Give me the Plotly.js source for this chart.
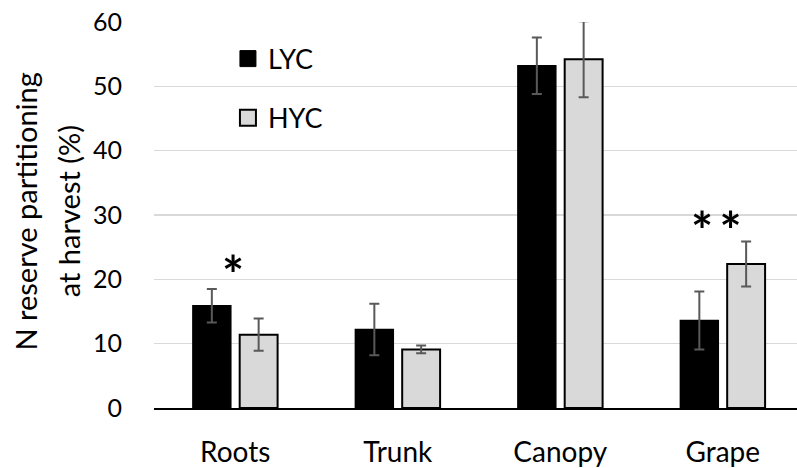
<!DOCTYPE html>
<html>
<head>
<meta charset="utf-8">
<script src="https://cdn.plot.ly/plotly-3.0.1.min.js"></script>
<style>html,body{margin:0;padding:0;background:#fff;}#chart{width:797px;height:468px;}</style>
</head>
<body>
<div id="chart"></div>
<script>
const categories = ["Roots", "Trunk", "Canopy", "Grape"];
const lycValues = [15.9, 12.2, 53.2, 13.6];
const lycErrors = [2.6, 4.0, 4.4, 4.5];
const hycValues = [11.4, 9.1, 54.2, 22.4];
const hycErrors = [2.5, 0.6, 5.9, 3.5];
const seriesNames = ["LYC", "HYC"];
const sigLabels = [{cat: "Roots", y: 22.7, text: "*"}, {cat: "Grape", y: 29.5, text: "*\u2009*"}];
const yTitleLines = ["N reserve partitioning", "at harvest (%)"];
const yTicks = [0, 10, 20, 30, 40, 50, 60];

const font = "Lato, 'Open Sans', sans-serif";

const traces = [
  {
    type: "bar", name: seriesNames[0], x: categories, y: lycValues, showlegend: false,
    marker: {color: "#000000", line: {color: "#000000", width: 1.5}},
    error_y: {type: "data", array: lycErrors, visible: true, color: "#595959", thickness: 2, width: 5}
  },
  {
    type: "bar", name: seriesNames[1], x: categories, y: hycValues, showlegend: false,
    marker: {color: "#d9d9d9", line: {color: "#000000", width: 2}},
    error_y: {type: "data", array: hycErrors, visible: true, color: "#595959", thickness: 2, width: 5}
  },
  {
    type: "scatter", mode: "markers", name: seriesNames[0], x: [null], y: [null], legend: "legend",
    marker: {symbol: "square", size: 20, color: "#000000", line: {color: "#000000", width: 1}}
  },
  {
    type: "scatter", mode: "markers", name: seriesNames[1], x: [null], y: [null], legend: "legend2",
    marker: {symbol: "square", size: 20, color: "#d9d9d9", line: {color: "#000000", width: 2}}
  }
];

const annotations = sigLabels.map(s => ({
  x: s.cat, y: s.y, xref: "x", yref: "y", text: s.text, showarrow: false,
  font: {family: font, size: 52, color: "#000", weight: "bold"}, yanchor: "middle",
  xshift: s.cat === "Grape" ? -6 : -2, yshift: -12
}));
[-0.2, -0.1337].forEach((px, i) => annotations.push({
  xref: "paper", yref: "paper", x: px, y: 0.51, textangle: -90,
  text: yTitleLines[i], showarrow: false,
  font: {family: font, size: 29, color: "#000"}, xanchor: "center", yanchor: "middle"
}));

const layout = {
  width: 797, height: 468,
  margin: {l: 154, r: 0, t: 22, b: 60},
  paper_bgcolor: "#fff", plot_bgcolor: "#fff",
  barmode: "group", bargap: 0.424, bargroupgap: 0.19,
  font: {family: font, color: "#000"},
  xaxis: {
    type: "category", range: [-0.5, 3.457], showgrid: false, zeroline: false,
    showline: true, linecolor: "#000", linewidth: 2, ticks: "",
    tickfont: {family: font, size: 28, color: "#000"}, ticklabelstandoff: 18
  },
  yaxis: {
    range: [0, 60], tickvals: yTicks, showgrid: true, gridcolor: "#d9d9d9", gridwidth: 1.2,
    zeroline: false, showline: false, ticks: "",
    tickfont: {family: font, size: 25, color: "#000"}, ticklabelstandoff: 31
  },
  legend: {x: 0.115, y: 0.904, xanchor: "left", yanchor: "middle", bgcolor: "rgba(0,0,0,0)",
    font: {family: font, size: 27, color: "#000"}},
  legend2: {x: 0.115, y: 0.751, xanchor: "left", yanchor: "middle", bgcolor: "rgba(0,0,0,0)",
    font: {family: font, size: 27, color: "#000"}},
  showlegend: true,
  annotations: annotations
};

Plotly.newPlot("chart", traces, layout, {displayModeBar: false, staticPlot: true});
</script>
</body>
</html>
